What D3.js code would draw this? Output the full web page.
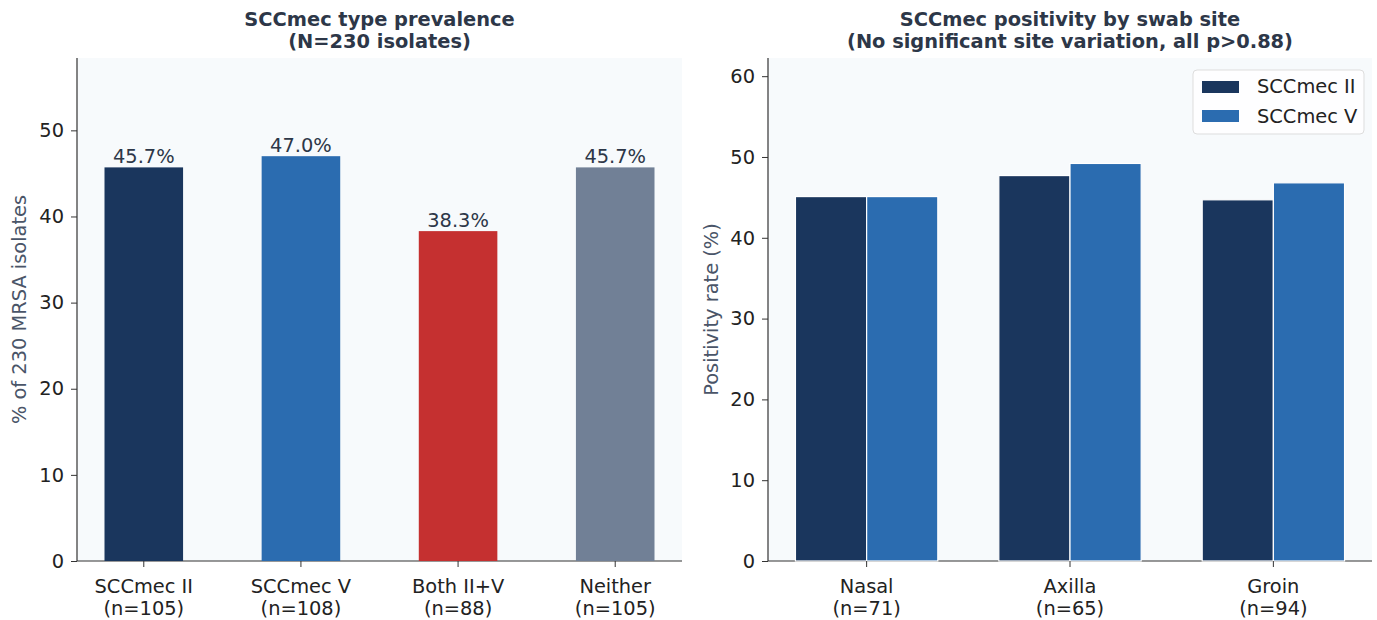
<!DOCTYPE html>
<html>
<head>
<meta charset="utf-8">
<script src="https://cdn.jsdelivr.net/npm/d3@7/dist/d3.min.js"></script>
<style>
  body { margin: 0; background: #fff; }
  svg { font-family: "DejaVu Sans", sans-serif; }
</style>
</head>
<body>
<svg id="chart" width="1377" height="620"></svg>
<script>
// left panel data
var typeLabels = ["SCCmec II", "SCCmec V", "Both II+V", "Neither"];
var typeCounts = ["(n=105)", "(n=108)", "(n=88)", "(n=105)"];
var typePct = [45.7, 47.0, 38.3, 45.7];
var typeColors = ["#1a365d", "#2b6cb0", "#c53030", "#718096"];

// right panel data
var sites = ["Nasal", "Axilla", "Groin"];
var siteCounts = ["(n=71)", "(n=65)", "(n=94)"];
var seriesNames = ["SCCmec II", "SCCmec V"];
var seriesColors = ["#1a365d", "#2b6cb0"];
var typeIIRate = [45.1, 47.7, 44.7];
var typeVRate = [45.1, 49.2, 46.8];

var leftTicks = [0, 10, 20, 30, 40, 50];
var rightTicks = [0, 10, 20, 30, 40, 50, 60];

var svg = d3.select("#chart");
var top_ = 58, bottom = 561;
var titleColor = "#2d3748";
var fs = "19.4px";

function drawFrame(g, x0, x1, y, ticks, ylabel, labelX, title) {
  g.append("rect").attr("x", x0).attr("y", top_).attr("width", x1 - x0)
    .attr("height", bottom - top_).attr("fill", "#f7fafc");
  var yAxis = g.append("g").attr("transform", "translate(" + x0 + ",0)")
    .call(d3.axisLeft(y).tickValues(ticks).tickSize(6).tickPadding(7));
  yAxis.select(".domain").remove();
  yAxis.selectAll("text").attr("font-size", fs).attr("fill", "#222")
    .attr("font-family", "DejaVu Sans");
  yAxis.selectAll("line").attr("stroke", "#333");
  g.append("line").attr("x1", x0).attr("x2", x0).attr("y1", top_).attr("y2", bottom)
    .attr("stroke", "#333").attr("stroke-width", 1.2);
  g.append("line").attr("x1", x0).attr("x2", x1).attr("y1", bottom).attr("y2", bottom)
    .attr("stroke", "#333").attr("stroke-width", 1.2);
  g.append("text").attr("transform", "translate(" + labelX + "," + ((top_ + bottom) / 2) + ") rotate(-90)")
    .attr("text-anchor", "middle").attr("font-size", fs).attr("fill", "#4a5568")
    .text(ylabel);
  var cx = (x0 + x1) / 2;
  g.append("text").attr("x", cx).attr("y", 26).attr("text-anchor", "middle")
    .attr("font-size", fs).attr("font-weight", "bold").attr("fill", titleColor).text(title[0]);
  g.append("text").attr("x", cx).attr("y", 48).attr("text-anchor", "middle")
    .attr("font-size", fs).attr("font-weight", "bold").attr("fill", titleColor).text(title[1]);
}

function xLabels(g, x, names, counts) {
  names.forEach(function(n, i) {
    var px = x(i);
    g.append("line").attr("x1", px).attr("x2", px).attr("y1", bottom).attr("y2", bottom + 6)
      .attr("stroke", "#333");
    g.append("text").attr("x", px).attr("y", 593).attr("text-anchor", "middle")
      .attr("font-size", fs).attr("fill", "#222").text(n);
    g.append("text").attr("x", px).attr("y", 615).attr("text-anchor", "middle")
      .attr("font-size", fs).attr("fill", "#222").text(counts[i]);
  });
}

// ---- left panel
var gl = svg.append("g");
var xl = d3.scaleLinear().domain([-0.425, 3.425]).range([77, 682]);
var yl = d3.scaleLinear().domain([0, 58.4]).range([bottom, top_]);
drawFrame(gl, 77, 682, yl, leftTicks, "% of 230 MRSA isolates", 26,
  ["SCCmec type prevalence", "(N=230 isolates)"]);

gl.selectAll(".bar").data(typePct).enter().append("rect")
  .attr("x", (d, i) => xl(i - 0.25))
  .attr("width", xl(0.5) - xl(0))
  .attr("y", d => yl(d))
  .attr("height", d => bottom - yl(d))
  .attr("fill", (d, i) => typeColors[i]);

gl.selectAll(".val").data(typePct).enter().append("text")
  .attr("x", (d, i) => xl(i))
  .attr("y", d => yl(d) - 4)
  .attr("text-anchor", "middle").attr("font-size", fs).attr("fill", titleColor)
  .text(d => d.toFixed(1) + "%");

xLabels(gl, xl, typeLabels, typeCounts);

// ---- right panel
var gr = svg.append("g");
var xr = d3.scaleLinear().domain([-0.485, 2.485]).range([768, 1372]);
var yr = d3.scaleLinear().domain([0, 62.25]).range([bottom, top_]);
drawFrame(gr, 768, 1372, yr, rightTicks, "Positivity rate (%)", 718,
  ["SCCmec positivity by swab site", "(No significant site variation, all p>0.88)"]);

var bw = 0.35;
[typeIIRate, typeVRate].forEach(function(series, s) {
  gr.selectAll(".s" + s).data(series).enter().append("rect")
    .attr("x", (d, i) => xr(i + (s === 0 ? -bw : 0)))
    .attr("width", xr(bw) - xr(0))
    .attr("y", d => yr(d))
    .attr("height", d => bottom - yr(d))
    .attr("fill", seriesColors[s])
    .attr("stroke", "#fff").attr("stroke-width", 1.2);
});

xLabels(gr, xr, sites, siteCounts);

// legend
var lg = gr.append("g").attr("transform", "translate(1193,70)");
lg.append("rect").attr("width", 171).attr("height", 64).attr("rx", 4)
  .attr("fill", "#fff").attr("fill-opacity", 0.8).attr("stroke", "#ddd");
seriesNames.forEach(function(n, i) {
  lg.append("rect").attr("x", 9).attr("y", 11 + i * 29).attr("width", 37).attr("height", 12)
    .attr("fill", seriesColors[i]);
  lg.append("text").attr("x", 64).attr("y", 23 + i * 30).attr("font-size", fs)
    .attr("fill", "#222").text(n);
});
</script>
</body>
</html>
